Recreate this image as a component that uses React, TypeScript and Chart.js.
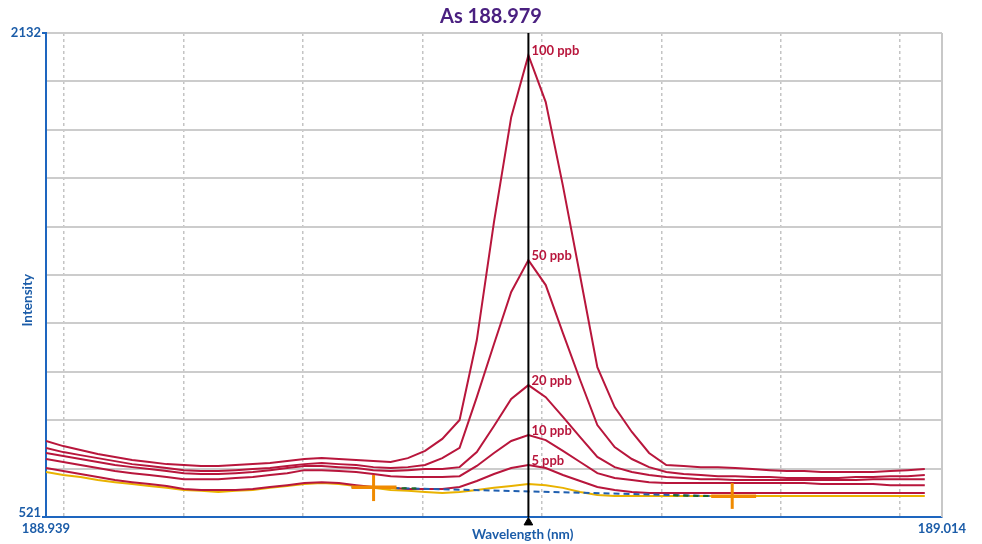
import React, { useEffect, useRef } from "react";
import { Chart, registerables } from "chart.js";
Chart.register(...registerables);

// ---- data ----
const wavelengths = [
  188.9385, 188.93994, 188.94138, 188.94283, 188.94427, 188.94571, 188.94715, 188.9486, 188.95004, 188.95148,
  188.95292, 188.95437, 188.95581, 188.95725, 188.95869, 188.96013, 188.96158, 188.96302, 188.96446, 188.9659,
  188.96735, 188.96879, 188.97023, 188.97167, 188.97312, 188.97456, 188.976, 188.97744, 188.97888, 188.98033,
  188.98177, 188.98321, 188.98465, 188.9861, 188.98754, 188.98898, 188.99042, 188.99187, 188.99331, 188.99475,
  188.99619, 188.99763, 188.99908, 189.00052, 189.00196, 189.0034, 189.00485, 189.00629, 189.00773, 189.00917,
  189.01062, 189.01206,
];
const ppb100 = [
  774, 757, 744, 731, 721, 711, 704, 697, 694, 691,
  691, 694, 697, 701, 707, 714, 717, 714, 711, 707,
  704, 717, 741, 781, 844, 1110, 1503, 1852, 2058, 1902,
  1623, 1323, 1020, 887, 804, 734, 694, 691, 687, 687,
  684, 681, 677, 674, 674, 671, 671, 671, 671, 674,
  677, 681,
];
const ppb50 = [
  751, 737, 727, 717, 707, 697, 691, 684, 677, 674,
  674, 677, 681, 684, 691, 697, 701, 697, 694, 687,
  684, 687, 694, 717, 751, 920, 1097, 1270, 1376, 1293,
  1133, 977, 827, 754, 714, 687, 671, 664, 661, 657,
  657, 654, 654, 651, 651, 651, 651, 654, 654, 657,
  657, 661,
];
const ppb20 = [
  734, 724, 714, 704, 694, 687, 681, 674, 667, 664,
  664, 667, 671, 677, 684, 691, 691, 687, 684, 677,
  674, 677, 681, 681, 687, 737, 824, 914, 960, 920,
  854, 787, 721, 687, 671, 661, 654, 651, 647, 647,
  644, 644, 644, 644, 644, 644, 644, 644, 647, 647,
  647, 647,
];
const ppb10 = [
  714, 704, 694, 684, 674, 667, 661, 654, 647, 647,
  647, 651, 654, 661, 667, 677, 677, 674, 671, 664,
  657, 654, 654, 654, 657, 691, 734, 774, 794, 777,
  741, 704, 667, 651, 644, 637, 634, 634, 634, 634,
  634, 634, 634, 634, 634, 631, 631, 631, 631, 627,
  627, 627,
];
const ppb5 = [
  684, 674, 664, 654, 644, 637, 631, 624, 614, 611,
  611, 611, 614, 621, 627, 634, 637, 634, 627, 621,
  618, 614, 614, 614, 621, 641, 664, 684, 694, 684,
  661, 641, 621, 611, 604, 601, 601, 601, 601, 601,
  601, 601, 601, 601, 601, 601, 601, 601, 601, 601,
  601, 601,
];
const blank = [
  671, 661, 654, 644, 637, 631, 624, 618, 611, 608,
  604, 608, 611, 618, 624, 631, 634, 631, 624, 618,
  611, 608, 604, 601, 604, 611, 618, 624, 631, 627,
  618, 604, 594, 591, 591, 591, 591, 591, 591, 591,
  591, 591, 591, 591, 591, 591, 591, 591, 591, 591,
  591, 591,
];
const seriesLabels = ["100 ppb", "50 ppb", "20 ppb", "10 ppb", "5 ppb"];

const titleText = "As 188.979";
const xTitle = "Wavelength (nm)";
const yTitle = "Intensity";
const xMin = 188.9385;
const xMax = 189.0135;
const yMin = 521;
const yMax = 2132;
const xTickLabels = ["188.939", "189.014"];
const yTickLabels = ["521", "2132"];
const xGridValues = [188.94, 188.95, 188.96, 188.97, 188.98, 188.99, 189.0, 189.01];
const yGridValues = [521, 682.1, 843.2, 1004.3, 1165.4, 1326.5, 1487.6, 1648.7, 1809.8, 1970.9, 2132];

const peakWavelength = 188.97888;
const peakArrowIntensity = [503];
const peakArrowBaseIntensity = [479];

// background correction
const bgWavelengths = [188.96592, 188.99594];
const bgIntensity = [619, 589];
const bgGreenLeftWl = [188.96408, 188.9695];
const bgGreenLeftInt = [620, 616];
const bgGreenRightWl = [188.991, 188.99594];
const bgGreenRightInt = [593, 589];
// correction point markers
const markerWl = [188.96592, 188.99594];
const markerLow = [574, 548];
const markerHigh = [661, 634];
const markerSpanLeft = [188.96408, 188.99418];
const markerSpanRight = [188.96784, 188.99794];
const markerLevel = [620, 590];

// ---- styles ----
const RED = "#b8163c";
const YELLOW = "#e9b200";
const BLUE_TEXT = "#1b5ca8";
const AXIS_BLUE = "#1e66bf";
const DASH_BLUE = "#1f5fb0";
const GREEN = "#1d6b22";
const ORANGE = "#f08a00";
const PURPLE = "#4a2080";
const FONT = "Lato";

export default function App() {
  const ref = useRef<HTMLCanvasElement>(null);

  useEffect(() => {
    const canvas = ref.current!;
    const pts = (ys: number[]) => ys.map((y, i) => ({ x: wavelengths[i], y }));
    const redSeries = [ppb100, ppb50, ppb20, ppb10, ppb5];

    const datasets: any[] = [];
    datasets.push({
      label: "peak",
      data: [{ x: peakWavelength, y: yMin }, { x: peakWavelength, y: yMax }],
      borderColor: "#000",
      borderWidth: 2,
      pointRadius: 0,
      order: 0,
    });
    datasets.push({
      label: "arrow",
      data: [{ x: peakWavelength, y: peakArrowIntensity[0] }],
      showLine: false,
      pointStyle: "triangle",
      pointRadius: 5,
      backgroundColor: "#000",
      borderColor: "#000",
      borderWidth: 1,
      clip: false,
      order: 0,
    });
    datasets.push({
      label: "arrowBase",
      data: [{ x: peakWavelength, y: peakArrowBaseIntensity[0] }],
      showLine: false,
      pointStyle: "rect",
      pointRadius: 3,
      backgroundColor: ORANGE,
      borderColor: ORANGE,
      borderWidth: 0,
      clip: false,
      order: 5,
    });
    markerWl.forEach((wl, i) => {
      datasets.push({
        label: "markerV" + i,
        data: [{ x: wl, y: markerLow[i] }, { x: wl, y: markerHigh[i] }],
        borderColor: ORANGE,
        borderWidth: 3,
        pointRadius: 0,
        order: 1,
      });
      datasets.push({
        label: "markerH" + i,
        data: [{ x: markerSpanLeft[i], y: markerLevel[i] }, { x: markerSpanRight[i], y: markerLevel[i] }],
        borderColor: ORANGE,
        borderWidth: 3.5,
        pointRadius: 0,
        order: 1,
      });
    });
    datasets.push({
      label: "bg",
      data: bgWavelengths.map((x, i) => ({ x, y: bgIntensity[i] })),
      borderColor: DASH_BLUE,
      borderWidth: 2,
      borderDash: [6, 4],
      pointRadius: 0,
      order: 2,
    });
    datasets.push({
      label: "bgGreenL",
      data: bgGreenLeftWl.map((x, i) => ({ x, y: bgGreenLeftInt[i] })),
      borderColor: GREEN,
      borderWidth: 2,
      borderDash: [5, 5],
      pointRadius: 0,
      order: 1.5,
    });
    datasets.push({
      label: "bgGreenR",
      data: bgGreenRightWl.map((x, i) => ({ x, y: bgGreenRightInt[i] })),
      borderColor: GREEN,
      borderWidth: 2,
      borderDash: [5, 5],
      pointRadius: 0,
      order: 1.5,
    });
    const redStart = datasets.length;
    redSeries.forEach((s, i) => {
      datasets.push({
        label: seriesLabels[i],
        data: pts(s),
        borderColor: RED,
        borderWidth: 2,
        pointRadius: 0,
        order: 3,
      });
    });
    datasets.push({
      label: "blank",
      data: pts(blank),
      borderColor: YELLOW,
      borderWidth: 2,
      pointRadius: 0,
      order: 4,
    });

    const overlay = {
      id: "overlay",
      afterDatasetsDraw(chart: any) {
        const ctx = chart.ctx;
        const ca = chart.chartArea;
        ctx.save();
        // right border
        ctx.strokeStyle = "#c8c8c8";
        ctx.lineWidth = 2;
        ctx.beginPath();
        ctx.moveTo(ca.right, ca.top);
        ctx.lineTo(ca.right, ca.bottom);
        ctx.stroke();
        // chart title, centred on the canvas
        ctx.font = `bold 20px ${FONT}`;
        ctx.fillStyle = PURPLE;
        ctx.textAlign = "center";
        ctx.textBaseline = "middle";
        ctx.fillText(titleText, chart.width / 2, 17);
        // peak labels
        ctx.font = `bold 13px ${FONT}`;
        ctx.fillStyle = RED;
        ctx.textAlign = "left";
        ctx.textBaseline = "alphabetic";
        redSeries.forEach((s, i) => {
          const peakIdx = s.indexOf(Math.max(...s));
          const el = chart.getDatasetMeta(redStart + i).data[peakIdx];
          ctx.fillText(seriesLabels[i], el.x + 3, el.y);
        });
        // axis titles
        ctx.font = `bold 13.5px ${FONT}`;
        ctx.fillStyle = BLUE_TEXT;
        ctx.textAlign = "center";
        ctx.textBaseline = "middle";
        ctx.fillText(xTitle, ca.left + 0.532 * (ca.right - ca.left), ca.bottom + 18);
        ctx.translate(ca.left - 18, ca.top + 0.552 * (ca.bottom - ca.top));
        ctx.rotate(-Math.PI / 2);
        ctx.fillText(yTitle, 0, 0);
        ctx.restore();
      },
    };

    const chart = new Chart(canvas, {
      type: "line",
      data: { datasets },
      options: {
        animation: false,
        responsive: false,
        events: [],
        layout: { padding: { left: 0, right: 40, top: 0, bottom: 0 } },
        plugins: {
          legend: { display: false },
          tooltip: { enabled: false },
          title: {
            display: true,
            text: " ",
            color: "rgba(0,0,0,0)",
            font: { family: FONT, size: 20, weight: "bold" },
            padding: { top: 5, bottom: 4 },
          },
        },
        scales: {
          x: {
            type: "linear",
            min: xMin,
            max: xMax,
            afterBuildTicks: (scale: any) => {
              scale.ticks = [xMin, ...xGridValues, xMax].map((v) => ({ value: v }));
            },
            afterFit: (scale: any) => {
              scale.height = 27;
            },
            ticks: {
              autoSkip: false,
              maxRotation: 0,
              padding: 4,
              color: BLUE_TEXT,
              font: { family: FONT, size: 13, weight: "bold" },
              callback: (_v: any, i: number, ticks: any[]) =>
                i === 0 ? xTickLabels[0] : i === ticks.length - 1 ? xTickLabels[1] : "",
            },
            grid: {
              drawTicks: false,
              lineWidth: 1.5,
              color: (c: any) => (c.index === 0 || c.index === xGridValues.length + 1 ? "rgba(0,0,0,0)" : "#c4c4c4"),
            },
            border: { display: true, color: AXIS_BLUE, width: 2, dash: [3, 3] },
          },
          y: {
            type: "linear",
            min: yMin,
            max: yMax,
            afterBuildTicks: (scale: any) => {
              scale.ticks = yGridValues.map((v) => ({ value: v }));
            },
            afterFit: (scale: any) => {
              scale.width = 46;
            },
            ticks: {
              autoSkip: false,
              padding: 1,
              color: BLUE_TEXT,
              font: { family: FONT, size: 13, weight: "bold", lineHeight: 0.7 },
              callback: (_v: any, i: number, ticks: any[]) =>
                i === 0 ? [yTickLabels[0], ""] : i === ticks.length - 1 ? yTickLabels[1] : "",
            },
            grid: {
              lineWidth: 2,
              color: "#cccccc",
              tickLength: 4,
              tickWidth: 2,
              tickColor: (c: any) => (c.index === 0 || c.index === yGridValues.length - 1 ? AXIS_BLUE : "rgba(0,0,0,0)"),
            },
            border: { display: true, color: AXIS_BLUE, width: 2 },
          },
        },
      },
      plugins: [overlay],
    } as any);

    return () => chart.destroy();
  }, []);

  return (
    <div style={{ position: "fixed", left: 0, top: 0, width: 982, height: 544, background: "#fff" }}>
      <canvas ref={ref} width={982} height={544} style={{ display: "block" }} />
    </div>
  );
}
